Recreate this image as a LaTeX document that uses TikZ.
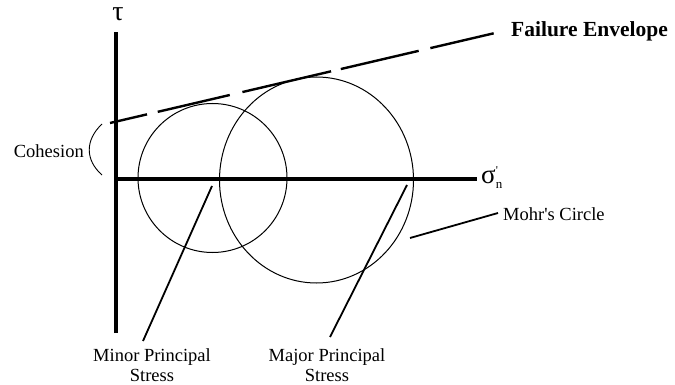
\documentclass[tikz,border=0pt]{standalone}
\usepackage{fontspec}
\setmainfont{Liberation Serif}
\usetikzlibrary{calc, positioning}

\begin{document}
\begin{tikzpicture}[x=1pt,y=-1pt]
\tikzset{
  lbl/.style={font=\fontsize{18.5}{20}\selectfont, align=center, inner sep=0pt},
  leader/.style={line width=1.8pt},
  axis/.style={line width=3.2pt},
  mohr/.style={line width=1pt}
}
\def\rs{74.5}
\def\rbx{97}
\def\rby{103}

\useasboundingbox (0,0) rectangle (675,385);

\coordinate (O) at (116,179);
\coordinate (Ttop) at (116,32);
\coordinate (Tbot) at (116,333);
\coordinate (Send) at (477,179);

% Axes
\draw[axis] (Tbot) -- (Ttop);
\draw[axis] (O) -- (Send);
\node[lbl, anchor=base, font=\fontsize{28}{28}\selectfont] (tau) at (118,21) {τ};
\node[lbl, anchor=west, font=\fontsize{27}{27}\selectfont] (sig) at (481,178)
  {σ\rlap{\raisebox{9pt}{\fontsize{12}{12}\selectfont\textquotesingle}}\raisebox{-5pt}{\fontsize{13}{13}\selectfont n}};

% Two Mohr circles
\coordinate (Cs) at (212.5,178);
\coordinate (Cb) at (316.5,180);
\draw[mohr] (Cs) circle[radius=\rs];
\draw[mohr] (Cb) ellipse[x radius=\rbx, y radius=\rby];

% Failure envelope
\node[lbl, anchor=west, font=\bfseries\fontsize{21.5}{22}\selectfont] (fail) at (511,31) {Failure Envelope};
\coordinate (E0) at (110,123);
\coordinate (E1) at (495,33);
\draw[line width=2.4pt, dash pattern=on 38pt off 11pt on 74pt off 13pt on 91pt off 10pt on 80pt off 12pt on 65pt]
  (E0) -- (E1);

% Cohesion
\node[lbl, anchor=east] (coh) at (84,151) {Cohesion};
\coordinate (Ka) at (102,124);
\coordinate (Kb) at (102,175);
\draw[line width=0.9pt] (Ka) .. controls (85,140) and (85,160) .. (Kb);

% Principal stresses
\node[lbl] (minor) at (152,365) {Minor Principal\\Stress};
\node[lbl] (major) at (327,365) {Major Principal\\Stress};
\coordinate (m0) at (212,186);
\coordinate (m1) at (143,341);
\coordinate (M0) at (407,185);
\coordinate (M1) at (330,337);
\draw[leader] (m0) -- (m1);
\draw[leader] (M0) -- (M1);

% Mohr's circle label
\node[lbl, anchor=west] (mc) at (503,214) {Mohr\textquotesingle s Circle};
\coordinate (c0) at (410,238);
\coordinate (c1) at (498,213);
\draw[leader] (c0) -- (c1);
\end{tikzpicture}
\end{document}
